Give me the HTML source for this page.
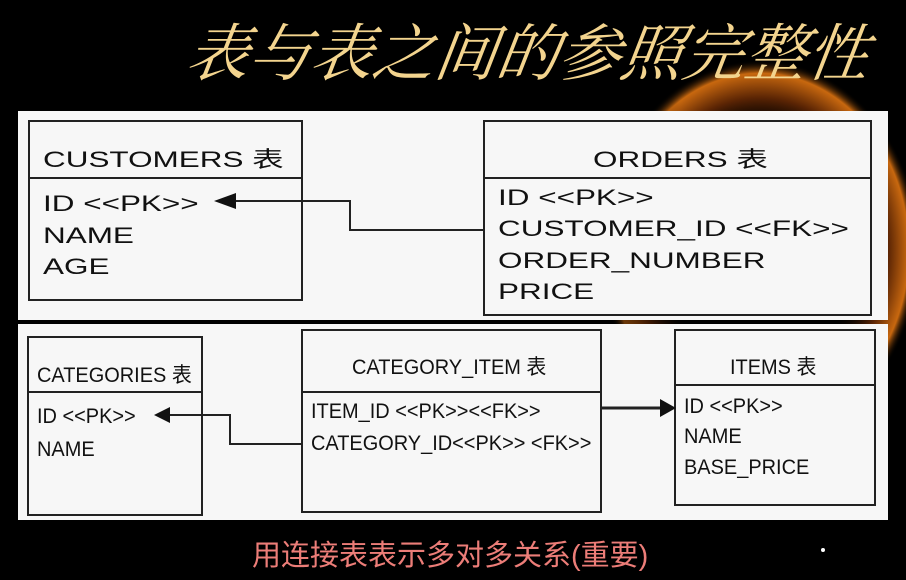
<!DOCTYPE html>
<html><head><meta charset="utf-8"><style>
body{margin:0;width:906px;height:580px;background:#000;position:relative;overflow:hidden;font-family:"Liberation Sans","Noto Sans CJK SC",sans-serif}
.a{position:absolute;white-space:nowrap}
.title{left:188px;top:4px;font-size:62px;font-style:italic;color:#f3d48e;font-family:"Liberation Serif","Noto Serif CJK SC",serif;letter-spacing:0px;transform:skewX(-8deg)}
.t1{font-size:22px;color:#111;font-family:"Liberation Sans","Noto Sans CJK SC",sans-serif;transform-origin:left;transform:scaleX(1.43)}
.t2{font-size:21px;color:#111;font-family:"Liberation Sans Narrow","Liberation Sans","Noto Sans CJK SC",sans-serif;transform-origin:left;transform:scaleX(.95)}
</style></head><body>
<svg class="a" style="left:0;top:0" width="906" height="580">
<defs><radialGradient id="g" cx="0.5" cy="0.5" r="0.5"><stop offset="0.6" stop-color="#000" stop-opacity="0"/><stop offset="0.8" stop-color="#5a2404"/><stop offset="0.93" stop-color="#c8680f"/><stop offset="1" stop-color="#000" stop-opacity="0"/></radialGradient>
<linearGradient id="m" x1="0" x2="1"><stop offset="0" stop-color="#000"/><stop offset="0.35" stop-color="#000" stop-opacity="0"/></linearGradient></defs>
<ellipse cx="760" cy="250" rx="160" ry="190" fill="url(#g)"/>
<rect x="560" y="40" width="346" height="300" fill="url(#m)"/>
<rect x="18" y="111" width="870" height="209" fill="#f7f7f7"/>
<rect x="18" y="324" width="870" height="196" fill="#f7f7f7"/>
<g fill="none" stroke="#222" stroke-width="2">
<rect x="29" y="121" width="273" height="179"/><line x1="29" y1="178" x2="302" y2="178"/>
<rect x="484" y="121" width="387" height="194"/><line x1="484" y1="178" x2="871" y2="178"/>
<polyline points="484,230 350,230 350,201 230,201"/>
<rect x="28" y="337" width="174" height="178"/><line x1="28" y1="392" x2="202" y2="392"/>
<rect x="302" y="330" width="299" height="182"/><line x1="302" y1="392" x2="601" y2="392"/>
<rect x="675" y="330" width="200" height="175"/><line x1="675" y1="385" x2="875" y2="385"/>
<polyline points="302,444 230,444 230,415 168,415"/>
<line x1="601" y1="408" x2="662" y2="408" stroke-width="3"/>
</g>
<polygon points="214,201 236,193 236,209" fill="#111"/>
<polygon points="154,415 170,407 170,423" fill="#111"/>
<polygon points="676,408 660,399 660,417" fill="#111"/>
<circle cx="823" cy="550" r="2" fill="#fff"/>
</svg>
<div class="a title">表与表之间的参照完整性</div>
<div class="a t1" style="left:43px;top:142px">CUSTOMERS 表</div>
<div class="a t1" style="left:43px;top:191px">ID &lt;&lt;PK&gt;&gt;</div>
<div class="a t1" style="left:43px;top:223px">NAME</div>
<div class="a t1" style="left:43px;top:254px">AGE</div>
<div class="a t1" style="left:593px;top:142px">ORDERS 表</div>
<div class="a t1" style="left:498px;top:185px">ID &lt;&lt;PK&gt;&gt;</div>
<div class="a t1" style="left:498px;top:216px">CUSTOMER_ID &lt;&lt;FK&gt;&gt;</div>
<div class="a t1" style="left:498px;top:248px">ORDER_NUMBER</div>
<div class="a t1" style="left:498px;top:279px">PRICE</div>
<div class="a t2" style="left:37px;top:359px">CATEGORIES 表</div>
<div class="a t2" style="left:37px;top:405px">ID &lt;&lt;PK&gt;&gt;</div>
<div class="a t2" style="left:37px;top:438px">NAME</div>
<div class="a t2" style="left:352px;top:351px">CATEGORY_ITEM 表</div>
<div class="a t2" style="left:311px;top:400px">ITEM_ID &lt;&lt;PK&gt;&gt;&lt;&lt;FK&gt;&gt;</div>
<div class="a t2" style="left:311px;top:432px">CATEGORY_ID&lt;&lt;PK&gt;&gt; &lt;FK&gt;&gt;</div>
<div class="a t2" style="left:730px;top:351px">ITEMS 表</div>
<div class="a t2" style="left:684px;top:395px">ID &lt;&lt;PK&gt;&gt;</div>
<div class="a t2" style="left:684px;top:425px">NAME</div>
<div class="a t2" style="left:684px;top:456px">BASE_PRICE</div>
<div class="a" style="left:252px;top:532px;font-size:29px;color:#ec7d78">用连接表表示多对多关系(重要)</div>
</body></html>
